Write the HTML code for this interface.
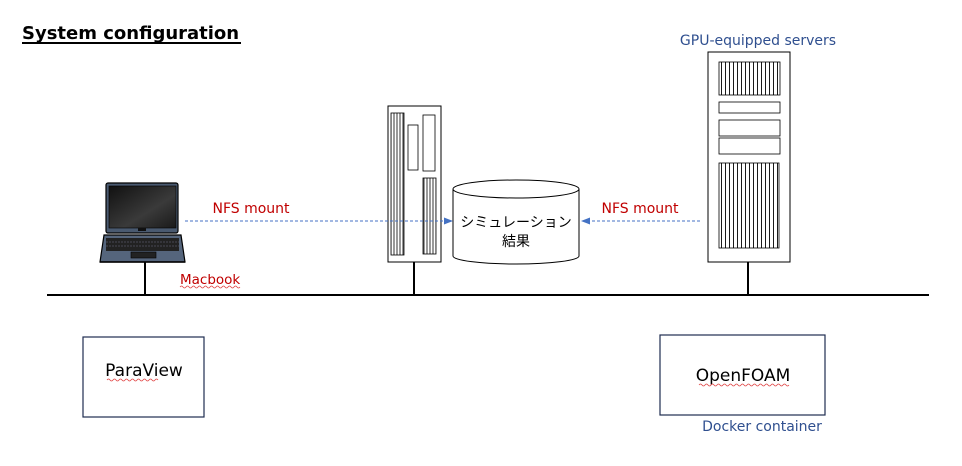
<!DOCTYPE html>
<html><head><meta charset="utf-8"><style>
html,body{margin:0;padding:0;background:#fff;}
svg{display:block;}
text{font-family:"DejaVu Sans","Liberation Sans","Noto Sans CJK JP",sans-serif;}
</style></head><body>
<svg width="962" height="466" viewBox="0 0 962 466" xmlns="http://www.w3.org/2000/svg">
<defs>
<pattern id="v3" width="3" height="10" patternUnits="userSpaceOnUse"><rect width="3" height="10" fill="#fff"/><line x1="1" y1="0" x2="1" y2="10" stroke="#000" stroke-width="0.8"/></pattern>
<pattern id="v4" width="4" height="10" patternUnits="userSpaceOnUse"><rect width="4" height="10" fill="#fff"/><line x1="1.5" y1="0" x2="1.5" y2="10" stroke="#000" stroke-width="0.9"/></pattern>
<linearGradient id="scr" x1="0" y1="0" x2="1" y2="1"><stop offset="0" stop-color="#111"/><stop offset="0.6" stop-color="#3a3a3a"/><stop offset="1" stop-color="#1a1a1a"/></linearGradient>
</defs>

<text x="22" y="39" font-size="18" font-weight="bold" fill="#000">System configuration</text>
<line x1="22" y1="43" x2="241" y2="43" stroke="#000" stroke-width="2"/>

<line x1="47" y1="295" x2="929" y2="295" stroke="#000" stroke-width="2"/>
<line x1="145" y1="262" x2="145" y2="295" stroke="#000" stroke-width="2"/>
<line x1="414" y1="262" x2="414" y2="295" stroke="#000" stroke-width="2"/>
<line x1="748" y1="262" x2="748" y2="295" stroke="#000" stroke-width="2"/>

<rect x="106" y="183" width="72" height="50" rx="2" fill="#4a5a70" stroke="#000" stroke-width="1.2"/>
<rect x="109" y="186" width="67" height="42" fill="url(#scr)" stroke="#000" stroke-width="0.6"/>
<rect x="138" y="228" width="8" height="3" fill="#111"/>
<polygon points="104,235 181,235 185,262 100,262" fill="#55657c" stroke="#000" stroke-width="1.2"/>
<rect x="106" y="238" width="73" height="13" fill="#222"/>
<line x1="106" y1="242" x2="179" y2="242" stroke="#556" stroke-width="0.8" stroke-dasharray="2,1"/>
<line x1="106" y1="246" x2="179" y2="246" stroke="#556" stroke-width="0.8" stroke-dasharray="2,1"/>
<rect x="131" y="252" width="25" height="6" fill="#222" stroke="#000" stroke-width="0.6"/>
<line x1="100" y1="262" x2="185" y2="262" stroke="#000" stroke-width="1.5"/>

<rect x="388" y="106" width="53" height="156" fill="#fff" stroke="#000" stroke-width="1"/>
<rect x="391" y="113" width="13" height="142" fill="url(#v3)" stroke="#000" stroke-width="0.8"/>
<rect x="408" y="125" width="10" height="45" fill="#fff" stroke="#000" stroke-width="0.8"/>
<rect x="423" y="115" width="12" height="56" fill="#fff" stroke="#000" stroke-width="0.8"/>
<rect x="423" y="178" width="13" height="76" fill="url(#v3)" stroke="#000" stroke-width="0.8"/>

<text x="758" y="45" font-size="14" fill="#2f4f8f" text-anchor="middle">GPU-equipped servers</text>
<rect x="708" y="52" width="82" height="210" fill="#fff" stroke="#000" stroke-width="1"/>
<rect x="719" y="62" width="61" height="33" fill="url(#v4)" stroke="#000" stroke-width="0.8"/>
<rect x="719" y="102" width="61" height="11" fill="#fff" stroke="#000" stroke-width="0.8"/>
<rect x="719" y="120" width="61" height="16" fill="#fff" stroke="#000" stroke-width="0.8"/>
<rect x="719" y="138" width="61" height="16" fill="#fff" stroke="#000" stroke-width="0.8"/>
<rect x="719" y="163" width="60" height="85" fill="url(#v4)" stroke="#000" stroke-width="0.8"/>

<path d="M453,189 L453,256 A63,8 0 0 0 579,256 L579,189" fill="#fff" stroke="#000" stroke-width="1"/>
<ellipse cx="516" cy="189" rx="63" ry="9" fill="#fff" stroke="#000" stroke-width="1"/>
<text x="516" y="227" font-size="14" text-anchor="middle" fill="#000" font-family="'Noto Sans CJK JP',sans-serif">シミュレーション</text>
<text x="516" y="246" font-size="14" text-anchor="middle" fill="#000" font-family="'Noto Sans CJK JP',sans-serif">結果</text>

<line x1="185" y1="221" x2="446" y2="221" stroke="#4472c4" stroke-width="1" stroke-dasharray="3,2"/>
<polygon points="453,221 444,217.5 444,224.5" fill="#4472c4"/>
<text x="251" y="213" font-size="14" fill="#c00000" text-anchor="middle">NFS mount</text>
<line x1="700" y1="221" x2="588" y2="221" stroke="#4472c4" stroke-width="1" stroke-dasharray="3,2"/>
<polygon points="581,221 590,217.5 590,224.5" fill="#4472c4"/>
<text x="640" y="213" font-size="14" fill="#c00000" text-anchor="middle">NFS mount</text>

<text x="180" y="284" font-size="13.5" fill="#c00000">Macbook</text>
<path d="M180,287 q1.5,-2 3,0 t3,0 t3,0 t3,0 t3,0 t3,0 t3,0 t3,0 t3,0 t3,0 t3,0 t3,0 t3,0 t3,0 t3,0 t3,0 t3,0 t3,0 t3,0 t3,0" fill="none" stroke="#e04040" stroke-width="0.7"/>

<rect x="83" y="337" width="121" height="80" fill="#fff" stroke="#1f2d50" stroke-width="1.2"/>
<text x="144" y="376" font-size="17" fill="#000" text-anchor="middle" font-family="'Liberation Sans',sans-serif">ParaView</text>
<path d="M107,380 q1.5,-2 3,0 t3,0 t3,0 t3,0 t3,0 t3,0 t3,0 t3,0 t3,0 t3,0 t3,0 t3,0 t3,0 t3,0 t3,0 t3,0 t3,0" fill="none" stroke="#e04040" stroke-width="0.7"/>

<rect x="660" y="335" width="165" height="80" fill="#fff" stroke="#1f2d50" stroke-width="1.2"/>
<text x="743" y="381" font-size="17" fill="#000" text-anchor="middle" font-family="'Liberation Sans',sans-serif">OpenFOAM</text>
<path d="M699,385 q1.5,-2 3,0 t3,0 t3,0 t3,0 t3,0 t3,0 t3,0 t3,0 t3,0 t3,0 t3,0 t3,0 t3,0 t3,0 t3,0 t3,0 t3,0 t3,0 t3,0 t3,0 t3,0 t3,0 t3,0 t3,0 t3,0 t3,0 t3,0 t3,0 t3,0 t3,0" fill="none" stroke="#e04040" stroke-width="0.7"/>
<text x="762" y="431" font-size="14" fill="#2f4f8f" text-anchor="middle">Docker container</text>
</svg>
</body></html>
